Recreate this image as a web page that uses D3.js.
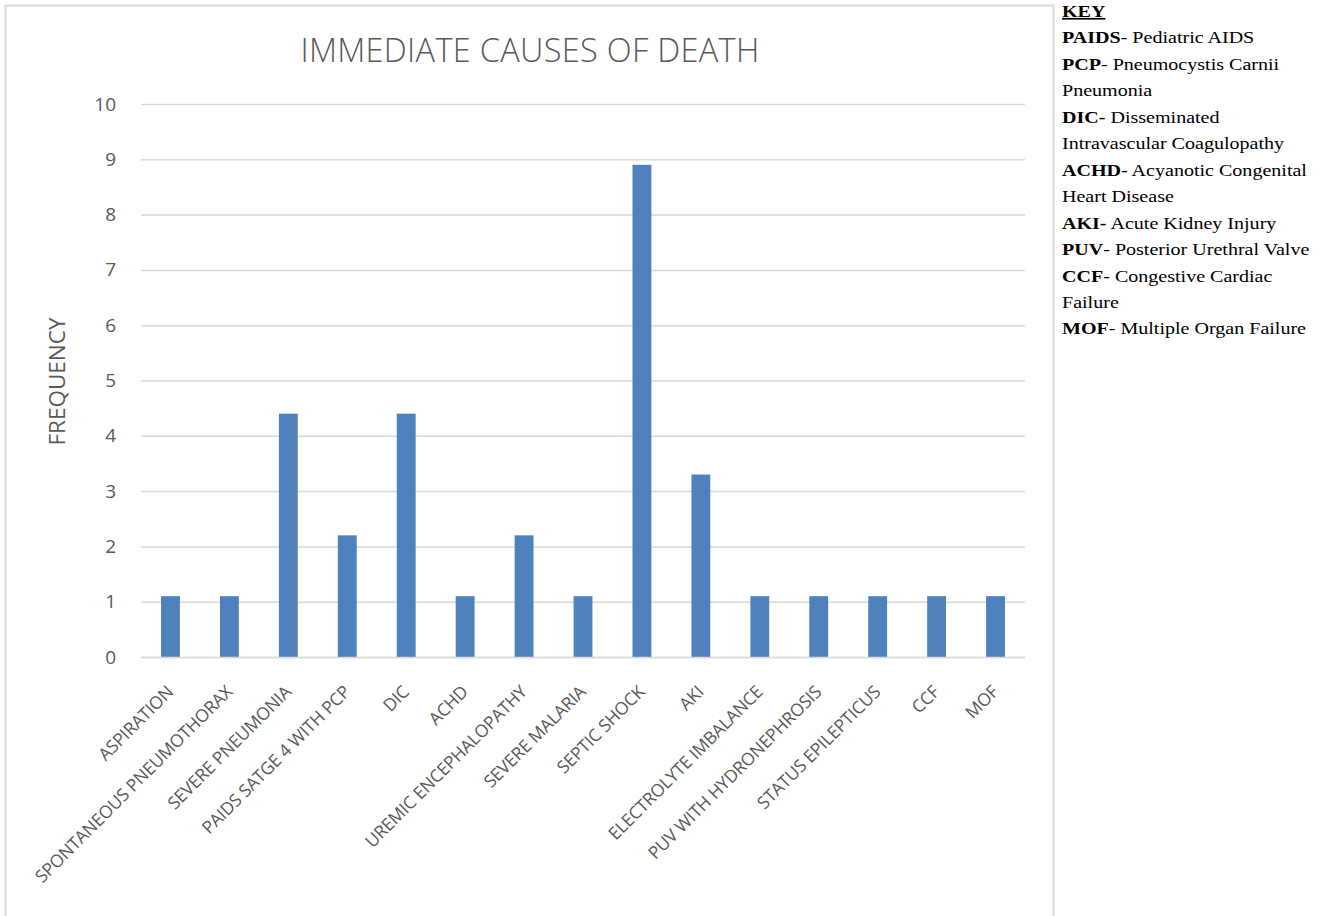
<!DOCTYPE html>
<html>
<head>
<meta charset="utf-8">
<script src="https://cdn.jsdelivr.net/npm/d3@7"></script>
<style>
  html, body { margin: 0; padding: 0; background: #fff; }
  svg { display: block; }
</style>
</head>
<body>
<svg id="chart" width="1329" height="916"></svg>
<script>
// Immediate causes of death, frequency per cause
const causes = [
  "ASPIRATION", "SPONTANEOUS PNEUMOTHORAX", "SEVERE PNEUMONIA", "PAIDS SATGE 4 WITH PCP",
  "DIC", "ACHD", "UREMIC ENCEPHALOPATHY", "SEVERE MALARIA", "SEPTIC SHOCK", "AKI",
  "ELECTROLYTE IMBALANCE", "PUV WITH HYDRONEPHROSIS", "STATUS EPILEPTICUS", "CCF", "MOF"
];
const frequency = [1.1, 1.1, 4.4, 2.2, 4.4, 1.1, 2.2, 1.1, 8.9, 3.3, 1.1, 1.1, 1.1, 1.1, 1.1];
const yTicks = [0, 1, 2, 3, 4, 5, 6, 7, 8, 9, 10];

// Abbreviation key shown beside the chart
const keyLines = [
  { b: "PAIDS", t: "- Pediatric AIDS" },
  { b: "PCP", t: "- Pneumocystis Carnii" },
  { b: "", t: "Pneumonia" },
  { b: "DIC-", t: " Disseminated" },
  { b: "", t: "Intravascular Coagulopathy" },
  { b: "ACHD-", t: " Acyanotic Congenital" },
  { b: "", t: "Heart Disease" },
  { b: "AKI-", t: " Acute Kidney Injury" },
  { b: "PUV", t: "- Posterior Urethral Valve" },
  { b: "CCF", t: "- Congestive Cardiac" },
  { b: "", t: "Failure" },
  { b: "MOF", t: "- Multiple Organ Failure" }
];

const svg = d3.select("#chart");
const textColor = "#595959";
const gridColor = "#d9d9d9";
const font = "'Open Sans', 'Liberation Sans', sans-serif";

// Chart frame
svg.append("rect")
  .attr("x", 5.5).attr("y", 5.5)
  .attr("width", 1048).attr("height", 930)
  .attr("fill", "#fff")
  .attr("stroke", gridColor).attr("stroke-width", 2);

const plot = { left: 141, right: 1025, top: 104, bottom: 657 };

const x = d3.scaleBand()
  .domain(causes)
  .range([plot.left, plot.right])
  .paddingInner(0.68).paddingOuter(0.34);

const y = d3.scaleLinear()
  .domain([0, 10])
  .range([plot.bottom, plot.top]);

// Gridlines and y tick labels
const yAxis = d3.axisLeft(y)
  .tickValues(yTicks)
  .tickSize(-(plot.right - plot.left))
  .tickPadding(25)
  .tickFormat(d3.format("d"));

const gy = svg.append("g")
  .attr("transform", `translate(${plot.left},0)`)
  .call(yAxis);
gy.select(".domain").remove();
gy.selectAll(".tick line").attr("stroke", gridColor).attr("stroke-width", 1.5);
gy.selectAll(".tick text")
  .attr("fill", textColor)
  .attr("font-family", font)
  .attr("font-size", 19);

// Bars
svg.append("g")
  .selectAll("rect")
  .data(causes)
  .join("rect")
  .attr("x", d => x(d))
  .attr("width", x.bandwidth())
  .attr("y", (d, i) => y(frequency[i]))
  .attr("height", (d, i) => y(0) - y(frequency[i]))
  .attr("fill", "#4f81bd");

// Category axis with rotated labels
const xAxis = d3.axisBottom(x).tickSize(0).tickPadding(0);
const gx = svg.append("g")
  .attr("transform", `translate(0,${plot.bottom})`)
  .call(xAxis);
gx.select(".domain").attr("stroke", gridColor).attr("stroke-width", 1.5);
gx.selectAll(".tick text")
  .attr("fill", textColor)
  .attr("font-family", font)
  .attr("font-size", 17.5)
  .attr("letter-spacing", -0.2)
  .attr("text-anchor", "end")
  .attr("dy", null)
  .attr("transform", "translate(4,36) rotate(-45)");

// Title
svg.append("text")
  .attr("x", 530).attr("y", 62)
  .attr("text-anchor", "middle")
  .attr("fill", textColor)
  .attr("font-family", font)
  .attr("font-weight", 300)
  .attr("font-size", 32.5)
  .attr("letter-spacing", 0.3)
  .text("IMMEDIATE CAUSES OF DEATH");

// Y axis title
svg.append("text")
  .attr("transform", `translate(65,${(plot.top + plot.bottom) / 2 + 1}) rotate(-90)`)
  .attr("text-anchor", "middle")
  .attr("fill", textColor)
  .attr("font-family", font)
  .attr("font-size", 22.5)
  .text("FREQUENCY");

// Key
const keyFont = "'Liberation Serif', 'Times New Roman', serif";
const key = svg.append("g")
  .attr("transform", "translate(1062,0) scale(1.18,1)")
  .attr("font-family", keyFont).attr("font-size", 17).attr("fill", "#000");
key.append("text")
  .attr("x", 0).attr("y", 17)
  .attr("font-weight", "bold")
  .attr("text-decoration", "underline")
  .text("KEY");
keyLines.forEach((line, i) => {
  const t = key.append("text").attr("x", 0).attr("y", 43.5 + i * 26.45);
  if (line.b) t.append("tspan").attr("font-weight", "bold").text(line.b);
  t.append("tspan").text(line.t);
});
</script>
</body>
</html>
